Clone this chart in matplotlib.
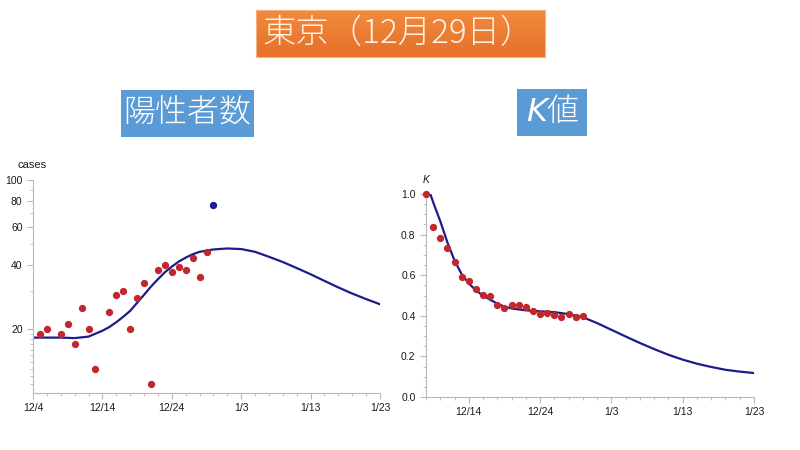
import numpy as np
import matplotlib.pyplot as plt
from matplotlib.patches import Rectangle
from matplotlib.ticker import FixedLocator, NullFormatter

plt.rcParams['font.family'] = ['Liberation Sans', 'Noto Sans CJK JP', 'DejaVu Sans']

# x = days since 12/4
tick_days = [0, 10, 20, 30, 40, 50]
tick_labels = ['12/4', '12/14', '12/24', '1/3', '1/13', '1/23']

# 陽性者数 (log scale)
case_days = [1, 2, 4, 5, 6, 7, 8, 9, 11, 12, 13, 14, 15, 16, 17, 18, 19, 20, 21, 22, 23, 24, 25]
case_vals = [19, 20, 19, 21, 17, 25, 20, 13, 24, 29, 30, 20, 28, 33, 11, 38, 40, 37, 39, 38, 43, 35, 46]
new_day = [26]
new_val = [76]
case_fit_days = [0, 2, 4, 6, 8, 10, 11, 12, 13, 14, 15, 16, 17, 18, 19, 20, 21, 22, 23, 24, 26, 28, 30,
                 32, 34, 36, 38, 40, 42, 44, 46, 48, 50]
case_fit_vals = [18.2, 18.2, 18.2, 18.1, 18.4, 19.6, 20.4, 21.5, 22.8, 24.3, 26.5, 28.9, 31.6, 34.2,
                 36.9, 39.2, 41.4, 43.2, 44.8, 46.0, 47.2, 47.7, 47.4, 46.0, 43.6, 41.2, 38.6, 36.1,
                 33.6, 31.3, 29.3, 27.6, 26.1]

# K値
k_days = list(range(4, 27))
k_vals = [1.0, 0.839, 0.782, 0.736, 0.664, 0.592, 0.572, 0.534, 0.503, 0.498, 0.451, 0.436,
          0.451, 0.451, 0.443, 0.426, 0.41, 0.416, 0.405, 0.393, 0.41, 0.395, 0.40]
k_fit_days = [4.6, 5, 6, 7, 8, 9, 10, 11, 12, 13, 14, 15, 16, 18, 20, 22, 24, 26, 28, 30, 32, 34, 36, 38,
              40, 42, 44, 46, 48, 50]
k_fit_vals = [1.0, 0.96, 0.866, 0.762, 0.672, 0.605, 0.56, 0.525, 0.50, 0.479, 0.46, 0.445, 0.436, 0.427,
              0.422, 0.418, 0.408, 0.393, 0.364, 0.331, 0.298, 0.266, 0.236, 0.208, 0.184, 0.164,
              0.148, 0.134, 0.125, 0.118]

red = '#c1272d'
navy = '#1c1c8f'
axcol = '#b8b8b8'

fig = plt.figure(figsize=(8, 4.5), dpi=100)

# オレンジのタイトル（グラデーション）
tax = fig.add_axes([256 / 800, 1 - 57 / 450, 289 / 800, 47 / 450])
grad = np.linspace(0, 1, 64).reshape(-1, 1)
tax.imshow(grad, aspect='auto', extent=[0, 1, 0, 1],
           cmap=plt.matplotlib.colors.LinearSegmentedColormap.from_list('o', ['#f28a3c', '#e5702a']))
tax.set_xlim(0, 1)
tax.set_ylim(0, 1)
tax.set_xticks([])
tax.set_yticks([])
for s in tax.spines.values():
    s.set_color('#f3b184')
    s.set_linewidth(0.8)
tax.text(0.022, 0.5, '東京（12月29日）', color='#fdf0e4', fontsize=24, weight='light',
         family=['Noto Sans CJK JP'], va='center', ha='left', transform=tax.transAxes)

fig.patches.append(Rectangle((121 / 800, 1 - 137 / 450), 133 / 800, 47 / 450, transform=fig.transFigure,
                             facecolor='#5b9bd5'))
fig.text(187 / 800, 1 - 113 / 450, '陽性者数', color='white', fontsize=23, weight='light',
         family=['Noto Sans CJK JP'], va='center', ha='center')
fig.patches.append(Rectangle((517 / 800, 1 - 136 / 450), 70 / 800, 47 / 450, transform=fig.transFigure,
                             facecolor='#5b9bd5'))
fig.text(553 / 800, 1 - 112 / 450, r'$\mathit{K}$値', color='white', fontsize=23, weight='light',
         family=['Noto Sans CJK JP'], va='center', ha='center')


def style(ax):
    for s in ['top', 'right']:
        ax.spines[s].set_visible(False)
    for s in ['left', 'bottom']:
        ax.spines[s].set_color(axcol)
        ax.spines[s].set_linewidth(0.8)
    ax.tick_params(which='both', color=axcol, labelsize=7.5, labelcolor='#1a1a1a')
    ax.tick_params(which='major', length=4)
    ax.tick_params(which='minor', length=2)


# 左：陽性者数
ax1 = fig.add_axes([33 / 800, 1 - 393 / 450, 347 / 800, 213 / 450])
ax1.plot(case_fit_days, case_fit_vals, color=navy, lw=1.6)
ax1.scatter(case_days, case_vals, s=18, color=red, zorder=3)
ax1.scatter(new_day, new_val, s=18, color=navy, zorder=3)
ax1.set_yscale('log')
ax1.set_ylim(10, 100)
ax1.set_xlim(0, 50)
ax1.yaxis.set_major_locator(FixedLocator([20, 40, 60, 80, 100]))
ax1.yaxis.set_major_formatter(plt.FuncFormatter(lambda v, p: '%d' % v))
ax1.yaxis.set_minor_locator(FixedLocator([11, 12, 13, 14, 15, 16, 17, 18, 19, 30, 50, 70, 90]))
ax1.yaxis.set_minor_formatter(NullFormatter())
ax1.set_xticks(tick_days)
ax1.set_xticklabels(tick_labels)
ax1.set_xticks(np.arange(0, 51, 2), minor=True)
style(ax1)
fig.text(17 / 800, 1 - 165 / 450, 'cases', fontsize=8, color='#1a1a1a', va='center')

# 右：K値
ax2 = fig.add_axes([426 / 800, 1 - 397 / 450, 328 / 800, 203 / 450])
ax2.plot(k_fit_days, k_fit_vals, color=navy, lw=1.6)
ax2.scatter(k_days, k_vals, s=18, color=red, zorder=3, clip_on=False)
ax2.set_xlim(4, 50)
ax2.set_ylim(0, 1.0)
ax2.set_yticks([0, 0.2, 0.4, 0.6, 0.8, 1.0])
ax2.yaxis.set_major_formatter(plt.FuncFormatter(lambda v, p: '%.1f' % v))
ax2.set_yticks(np.arange(0, 1.001, 0.05), minor=True)
ax2.set_xticks(tick_days[1:])
ax2.set_xticklabels(tick_labels[1:])
ax2.set_xticks(np.arange(4, 51, 2), minor=True)
style(ax2)
fig.text(423 / 800, 1 - 180 / 450, 'K', fontsize=7.5, style='italic', color='#1a1a1a', va='center')

fig.savefig('out.png', dpi=100)
